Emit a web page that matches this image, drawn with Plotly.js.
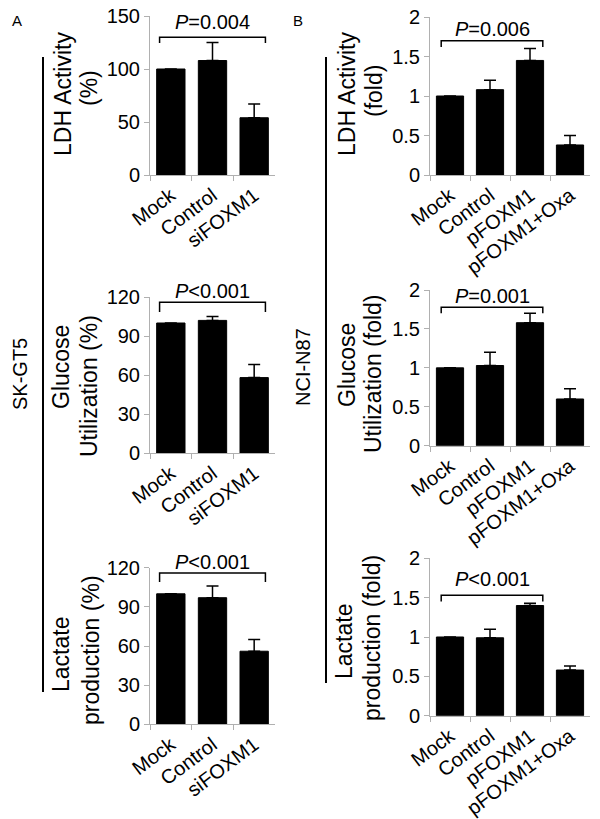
<!DOCTYPE html>
<html>
<head>
<meta charset="utf-8">
<script src="https://cdn.plot.ly/plotly-3.0.1.min.js"></script>
<style>html,body{margin:0;padding:0;background:#fff}</style>
</head>
<body>
<div id="chart" style="width:600px;height:819px"></div>
<script>
// categories
var catsA = ['Mock', 'Control', 'siFOXM1'];
var catsB = ['Mock', 'Control', 'pFOXM1', 'pFOXM1+Oxa'];

// SK-GT5 (panel A)
var ldhA = [100, 108, 54];
var ldhAErr = [0, 17, 13];
var gluA = [100, 102, 58];
var gluAErr = [0, 3, 10];
var lacA = [100, 97, 56];
var lacAErr = [0, 9, 9];

// NCI-N87 (panel B)
var ldhB = [1, 1.08, 1.45, 0.38];
var ldhBErr = [0, 0.12, 0.15, 0.12];
var gluB = [1, 1.03, 1.58, 0.60];
var gluBErr = [0, 0.17, 0.12, 0.13];
var lacB = [1, 0.99, 1.40, 0.58];
var lacBErr = [0, 0.11, 0.03, 0.05];

var pLabels = ['<i>P</i>=0.004', '<i>P</i>=0.006', '<i>P</i>&lt;0.001',
               '<i>P</i>=0.001', '<i>P</i>&lt;0.001', '<i>P</i>&lt;0.001'];

var FONT = 'Liberation Sans, Arial, sans-serif';
var W = 600, H = 819;
function px(x) { return x / W; }
function py(y) { return 1 - y / H; }

// panel geometry in pixels: x-axis left/right, y of zero and top tick,
// bracket (category units / data units), p-text pixel row
var panels = [
  {cats: catsA, v: ldhA, e: ldhAErr, x0: 150, x1: 275, yb: 175, yt: 16, max: 150, dt: 50,
   br: [-0.27, 2.27, 124.5, 130], pt: 22},
  {cats: catsB, v: ldhB, e: ldhBErr, x0: 430, x1: 590, yb: 175, yt: 17, max: 2, dt: 0.5,
   br: [-0.22, 2.32, 1.62, 1.70], pt: 29},
  {cats: catsA, v: gluA, e: gluAErr, x0: 150, x1: 275, yb: 453, yt: 297, max: 120, dt: 30,
   br: [-0.27, 2.27, 108.5, 116], pt: 291},
  {cats: catsB, v: gluB, e: gluBErr, x0: 430, x1: 590, yb: 445.7, yt: 290, max: 2, dt: 0.5,
   br: [-0.22, 2.32, 1.70, 1.78], pt: 296},
  {cats: catsA, v: lacA, e: lacAErr, x0: 150, x1: 275, yb: 724.3, yt: 567.7, max: 120, dt: 30,
   br: [-0.27, 2.27, 109, 116], pt: 562},
  {cats: catsB, v: lacB, e: lacBErr, x0: 430, x1: 590, yb: 715.7, yt: 558.3, max: 2, dt: 0.5,
   br: [-0.22, 2.32, 1.45, 1.53], pt: 579}
];

var data = [];
var layout = {
  width: W, height: H,
  margin: {l: 0, r: 0, t: 0, b: 0},
  paper_bgcolor: '#fff', plot_bgcolor: '#fff',
  showlegend: false,
  bargap: 0.32,
  font: {family: FONT, color: '#000', size: 18},
  shapes: [],
  annotations: []
};

panels.forEach(function (p, i) {
  var n = i === 0 ? '' : String(i + 1);
  data.push({
    type: 'bar', x: p.cats, y: p.v,
    xaxis: 'x' + n, yaxis: 'y' + n,
    marker: {color: '#000', line: {color: '#000', width: 1}},
    error_y: {type: 'data', symmetric: false, array: p.e,
              arrayminus: p.e.map(function () { return 0; }),
              color: '#000', thickness: 1.5, width: 6},
    hoverinfo: 'none'
  });
  layout['xaxis' + n] = {
    domain: [px(p.x0), px(p.x1)], anchor: 'y' + n,
    type: 'category', showline: true, linecolor: '#b0b0b0', linewidth: 1,
    ticks: 'outside', tickson: 'boundaries', ticklen: 5, tickcolor: '#b0b0b0',
    tickangle: -37, tickfont: {family: FONT, size: 20, color: '#000'},
    showgrid: false, zeroline: false, fixedrange: true
  };
  layout['yaxis' + n] = {
    domain: [py(p.yb), py(p.yt)], anchor: 'x' + n,
    range: [0, p.max], dtick: p.dt, tick0: 0,
    showline: true, linecolor: '#b0b0b0', linewidth: 1,
    ticks: 'outside', ticklen: 5, tickcolor: '#b0b0b0',
    tickfont: {family: FONT, size: 20, color: '#000'},
    showgrid: false, zeroline: false, fixedrange: true
  };
  var b = p.br;
  layout.shapes.push({
    type: 'path', xref: 'x' + n, yref: 'y' + n,
    path: 'M' + b[0] + ',' + b[2] + ' L' + b[0] + ',' + b[3] +
          ' L' + b[1] + ',' + b[3] + ' L' + b[1] + ',' + b[2],
    line: {color: '#000', width: 1.5}
  });
  layout.annotations.push({
    xref: 'x' + n, yref: 'paper', x: (b[0] + b[1]) / 2, y: py(p.pt),
    text: pLabels[i], showarrow: false, xanchor: 'center', yanchor: 'middle',
    font: {family: FONT, size: 20, color: '#000'}
  });
});

// long vertical lines beside the cell-line labels
layout.shapes.push(
  {type: 'line', xref: 'paper', yref: 'paper', x0: px(43), x1: px(43), y0: py(57), y1: py(692),
   line: {color: '#000', width: 2}},
  {type: 'line', xref: 'paper', yref: 'paper', x0: px(326), x1: px(326), y0: py(57), y1: py(683),
   line: {color: '#000', width: 2}}
);

// free text: panel letters, cell lines, y titles (one annotation per line)
var texts = [
  ['A', 17, 20, 0, 15], ['B', 298, 20, 0, 15],
  ['SK-GT5', 20, 374, -90, 20], ['NCI-N87', 303, 367, -90, 20],
  ['LDH Activity', 63, 94, -90, 23], ['(%)', 89, 88, -90, 23],
  ['LDH Activity', 347, 94, -90, 23], ['(fold)', 374, 91, -90, 23],
  ['Glucose', 61, 367, -90, 23], ['Utilization (%)', 89, 386, -90, 23],
  ['Glucose', 347, 365, -90, 23], ['Utilization (fold)', 373, 374, -90, 23],
  ['Lactate', 61, 655, -90, 23], ['production (%)', 91, 650, -90, 23],
  ['Lactate', 344, 642, -90, 23], ['production (fold)', 372, 638, -90, 23]
];
texts.forEach(function (t) {
  layout.annotations.push({
    xref: 'paper', yref: 'paper', x: px(t[1]), y: py(t[2]),
    text: t[0], textangle: t[3], showarrow: false,
    xanchor: 'center', yanchor: 'middle',
    font: {family: FONT, size: t[4], color: '#000'}
  });
});

Plotly.newPlot('chart', data, layout, {staticPlot: true, displayModeBar: false});
</script>
</body>
</html>
